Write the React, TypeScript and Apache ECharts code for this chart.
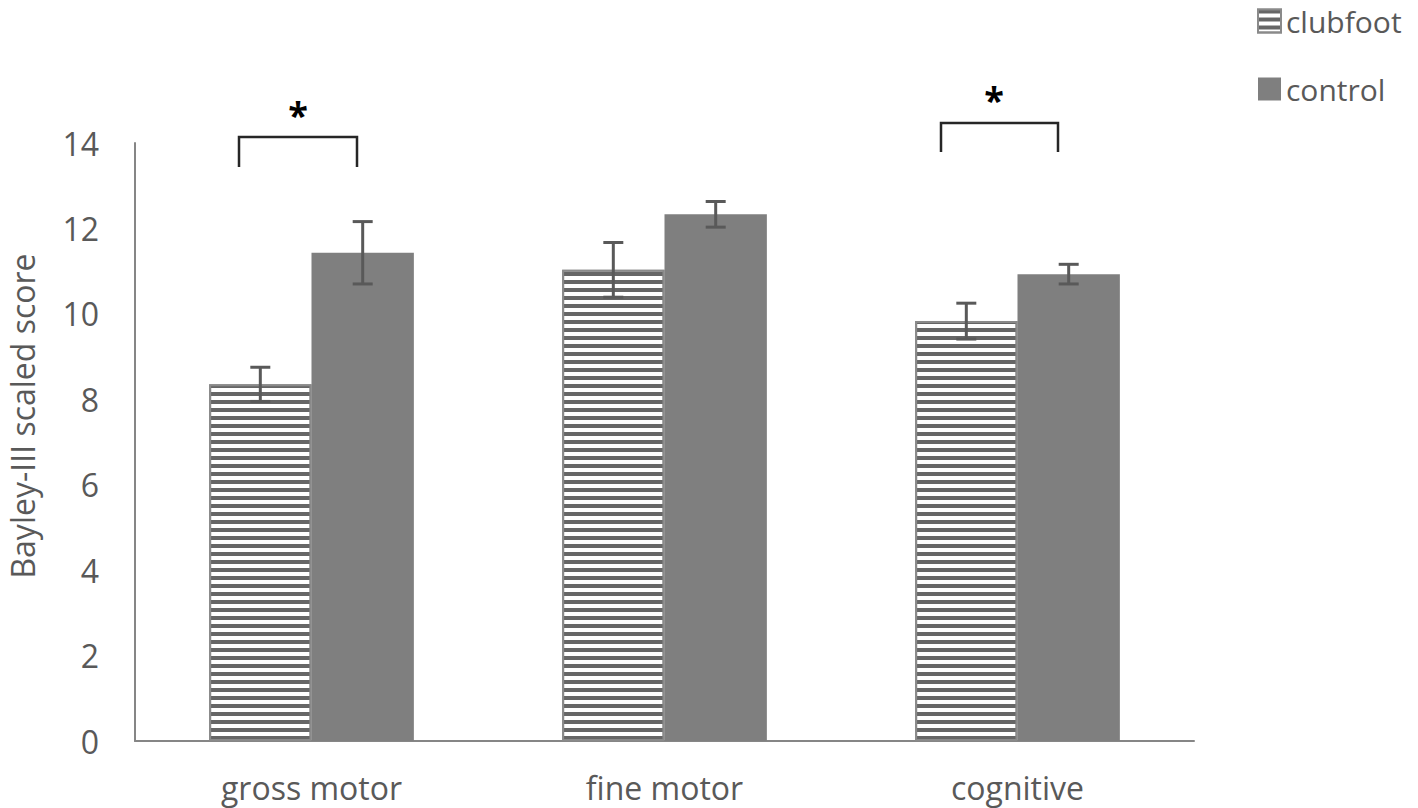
import React, { useEffect, useRef } from "react";
import * as echarts from "echarts";

const categories = ["gross motor", "fine motor", "cognitive"];
const clubfootMeans = [8.35, 11.03, 9.83];
const clubfootErr = [0.4, 0.64, 0.42];
const controlMeans = [11.43, 12.33, 10.93];
const controlErr = [0.73, 0.3, 0.23];
const yTicks = [0, 2, 4, 6, 8, 10, 12, 14];

const FONT = "'Open Sans', 'Noto Sans', sans-serif";
const CAT_GAP = 0.42;

function errorSeries(name: string, means: number[], errs: number[], side: number) {
  return {
    type: "custom",
    name: name + "-err",
    silent: true,
    z: 5,
    data: means.map((m, i) => [i, m - errs[i], m + errs[i]]),
    renderItem: (params: any, api: any) => {
      const band = api.size([1, 0])[0];
      const barW = (band * (1 - CAT_GAP)) / 2;
      const c = api.coord([api.value(0), 0]);
      const x = c[0] + side * barW / 2;
      const lo = api.coord([api.value(0), api.value(1)])[1];
      const hi = api.coord([api.value(0), api.value(2)])[1];
      const cap = 10;
      const style = { stroke: "#595959", lineWidth: 3 };
      return {
        type: "group",
        children: [
          { type: "line", shape: { x1: x, y1: lo, x2: x, y2: hi }, style },
          { type: "line", shape: { x1: x - cap, y1: lo, x2: x + cap, y2: lo }, style },
          { type: "line", shape: { x1: x - cap, y1: hi, x2: x + cap, y2: hi }, style },
        ],
      };
    },
  };
}

export default function App() {
  const ref = useRef<HTMLDivElement>(null);
  useEffect(() => {
    if (!ref.current) return;
    const chart = echarts.init(ref.current, undefined, { renderer: "svg" });
    const bracketStyle = { stroke: "#262626", lineWidth: 2.5, fill: "none" };
    const starStyle = {
      text: "*",
      fontFamily: FONT,
      fontWeight: "bold",
      fontSize: 36,
      fill: "#000000",
      align: "center",
      verticalAlign: "middle",
    };
    chart.setOption({
      animation: false,
      backgroundColor: "#ffffff",
      grid: { left: 135, right: 224, top: 143, bottom: 67 },
      legend: {
        orient: "vertical",
        left: 1257,
        top: 6,
        padding: 0,
        icon: "rect",
        itemWidth: 23,
        itemHeight: 23,
        itemGap: 38,
        textStyle: { fontFamily: FONT, fontSize: 30, color: "#595959", lineHeight: 30 },
        data: ["clubfoot", "control"],
      },
      xAxis: {
        type: "category",
        data: categories,
        axisLine: { lineStyle: { color: "#868686", width: 2 } },
        axisTick: { show: false },
        axisLabel: { fontFamily: FONT, fontSize: 32, color: "#595959", margin: 30 },
      },
      yAxis: {
        type: "value",
        min: 0,
        max: 14,
        interval: 2,
        splitLine: { show: false },
        axisLine: { show: true, lineStyle: { color: "#868686", width: 2 } },
        axisTick: { show: false },
        axisLabel: {
          fontFamily: FONT,
          fontSize: 32,
          color: "#595959",
          margin: 36,
          formatter: (v: number) => (yTicks.includes(v) ? String(v) : ""),
        },
      },
      series: [
        {
          type: "bar",
          name: "clubfoot",
          data: clubfootMeans,
          barGap: "0%",
          barCategoryGap: "42%",
          itemStyle: {
            color: "#ffffff",
            borderColor: "#8a8a8a",
            borderWidth: 2,
            decal: {
              symbol: "rect",
              symbolSize: 1,
              color: "#666666",
              dashArrayX: [1, 0],
              dashArrayY: [3.2, 3.1],
              rotation: 0,
            },
          },
        },
        {
          type: "bar",
          name: "control",
          data: controlMeans,
          barGap: "0%",
          barCategoryGap: "42%",
          itemStyle: { color: "#7f7f7f" },
        },
        errorSeries("clubfoot", clubfootMeans, clubfootErr, -1),
        errorSeries("control", controlMeans, controlErr, 1),
      ],
      graphic: [
        {
          type: "text",
          x: 22,
          y: 416,
          rotation: Math.PI / 2,
          style: {
            text: "Bayley-III scaled score",
            fontFamily: FONT,
            fontSize: 32,
            fill: "#595959",
            align: "center",
            verticalAlign: "middle",
          },
        },
        {
          type: "polyline",
          shape: { points: [[239, 167], [239, 137], [357, 137], [357, 167]] },
          style: bracketStyle,
        },
        {
          type: "polyline",
          shape: { points: [[941, 152], [941, 123], [1058, 123], [1058, 152]] },
          style: bracketStyle,
        },
        { type: "text", x: 298, y: 114, style: starStyle },
        { type: "text", x: 994, y: 99, style: starStyle },
      ],
    });
    return () => chart.dispose();
  }, []);
  return (
    <div
      ref={ref}
      style={{ position: "fixed", left: 0, top: 0, width: 1418, height: 808 }}
    />
  );
}
